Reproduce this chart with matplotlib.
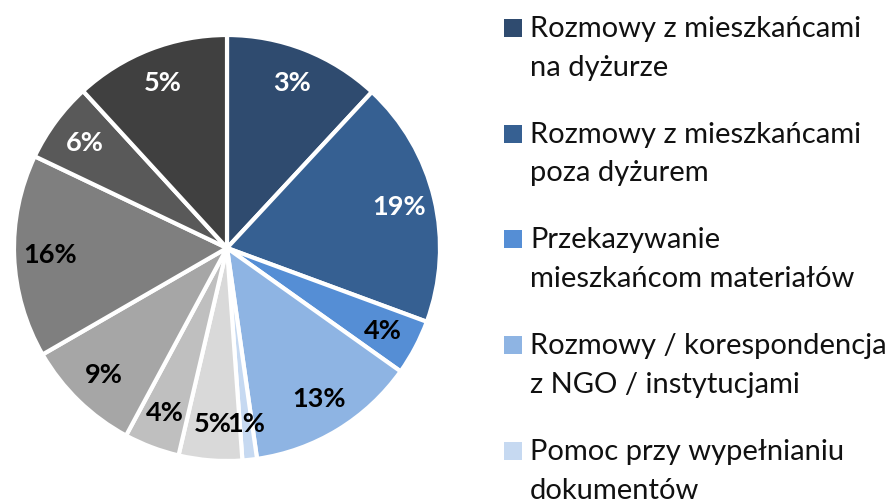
import matplotlib.pyplot as plt
from matplotlib.patches import Rectangle

# slice shares (degrees -> percent)
shares = [11.9, 18.7, 4.2, 12.9, 1.1, 4.8, 4.2, 8.8, 15.4, 6.1, 11.8]
# data labels as printed on the chart
pct_labels = ['3%', '19%', '4%', '13%', '1%', '5%', '4%', '9%', '16%', '6%', '5%']
# visible legend entries
legend_labels = [
    'Rozmowy z mieszkańcami\nna dyżurze',
    'Rozmowy z mieszkańcami\npoza dyżurem',
    'Przekazywanie\nmieszkańcom materiałów',
    'Rozmowy / korespondencja\nz NGO / instytucjami',
    'Pomoc przy wypełnianiu\ndokumentów',
]

colors = ['#2F4B6F', '#366092', '#558ED5', '#8EB4E3', '#C6D9F1',
          '#D9D9D9', '#BFBFBF', '#A6A6A6', '#7F7F7F', '#595959', '#404040']
text_colors = ['white', 'white', 'black', 'black', 'black',
               'black', 'black', 'black', 'black', 'white', 'white']

plt.rcParams['font.family'] = ['Lato', 'DejaVu Sans']

W, H = 894, 501
fig = plt.figure(figsize=(W / 100, H / 100), dpi=100)

cx, cy, r = 227, 248, 213
ax = fig.add_axes([(cx - r) / W, (H - cy - r) / H, 2 * r / W, 2 * r / H])
wedges, texts = ax.pie(shares, labels=pct_labels, colors=colors, startangle=90,
                       counterclock=False, labeldistance=0.83,
                       wedgeprops=dict(edgecolor='white', linewidth=3))
for t, c in zip(texts, text_colors):
    t.set_ha('center')
    t.set_va('center')
    t.set_color(c)
    t.set_fontsize(19.5)
    t.set_fontweight('bold')
ax.set_xlim(-1, 1)
ax.set_ylim(-1, 1)
ax.set_aspect('equal')
ax.axis('off')

# legend drawn by hand to match spacing
first_base = 36.7
entry_step = 105.8
line_step = 39
for i, lab in enumerate(legend_labels):
    base = first_base + i * entry_step
    fig.patches.append(Rectangle((504 / W, (H - base) / H), 18 / W, 18 / H,
                                 facecolor=colors[i], edgecolor='none',
                                 transform=fig.transFigure, figure=fig))
    for j, line in enumerate(lab.split('\n')):
        fig.text(530 / W, (H - base - j * line_step) / H, line, fontsize=21,
                 va='baseline', ha='left', color='#111111')

fig.savefig('out.png', dpi=100)
